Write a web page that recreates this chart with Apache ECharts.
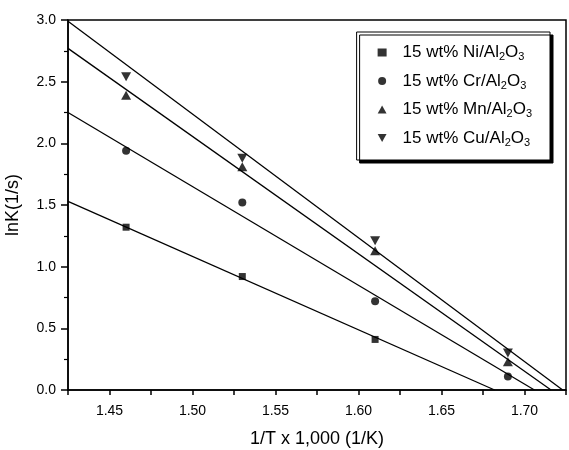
<!DOCTYPE html>
<html>
<head>
<meta charset="utf-8">
<script src="https://cdn.jsdelivr.net/npm/echarts@6/dist/echarts.min.js"></script>
<style>
html, body { margin: 0; padding: 0; background: #fff; }
#main { width: 569px; height: 450px; }
</style>
</head>
<body>
<div id="main"></div>
<script>
// 1/T x 1000 的测量点
var xVals = [1.46, 1.53, 1.61, 1.69];
var niVals = [1.32, 0.92, 0.41, null];
var crVals = [1.94, 1.52, 0.72, 0.11];
var mnVals = [2.39, 1.81, 1.13, 0.23];
var cuVals = [2.54, 1.88, 1.21, 0.30];

// 拟合直线的两个端点 [x, y]
var niFit = [[1.425, 1.53], [1.682, 0]];
var crFit = [[1.425, 2.25], [1.706, 0]];
var mnFit = [[1.425, 2.77], [1.716, 0]];
var cuFit = [[1.425, 2.99], [1.723, 0]];

var seriesNames = ['Ni', 'Cr', 'Mn', 'Cu'];
var yTicks = ['0.0', '0.5', '1.0', '1.5', '2.0', '2.5', '3.0'];

var myChart = echarts.init(document.getElementById('main'));

function toPoints(yArr) {
	var pts = [];
	for (var i in xVals) {
		if (yArr[i] !== null) {
			pts.push([xVals[i], yArr[i]]);
		}
	}
	return pts;
}

function fitLine(name, data) {
	return {
		name : name + '_fit',
		type : 'line',
		data : data,
		symbol : 'none',
		silent : true,
		lineStyle : {
			color : '#000',
			width : 1.3
		},
		z : 2
	};
}

function scatter(name, yArr, symbol, size) {
	return {
		name : name,
		type : 'scatter',
		data : toPoints(yArr),
		symbol : symbol,
		symbolSize : size,
		itemStyle : {
			color : '#000'
		},
		z : 3
	};
}

var downTri = 'path://M0,0 L10,0 L5,9 Z';
var upTri = 'path://M5,0 L10,9 L0,9 Z';

var option = {
	animation : false,
	textStyle : {
		fontFamily : 'Liberation Sans, Arial, sans-serif',
		color : '#000'
	},
	grid : {
		left : 68,
		right : 3,
		top : 20,
		bottom : 60,
		outerBoundsMode : 'none',
		show : true,
		borderColor : '#000',
		borderWidth : 1.5,
		backgroundColor : '#fff'
	},
	legend : {
		data : seriesNames,
		orient : 'vertical',
		right : 19,
		top : 32,
		itemWidth : 9,
		itemHeight : 8,
		itemGap : 10,
		padding : [12, 18, 12, 21],
		backgroundColor : '#fff',
		borderColor : '#000',
		borderWidth : 1,
		shadowColor : '#000',
		shadowBlur : 0,
		shadowOffsetX : 3,
		shadowOffsetY : 3,
		formatter : function(name) {
			return '15 wt% ' + name + '/Al{sub|2}O{sub|3}';
		},
		textStyle : {
			fontSize : 17,
			color : '#000',
			padding : [0, 0, 0, 11],
			fontFamily : 'Liberation Sans, Arial, sans-serif',
			rich : {
				sub : {
					fontSize : 11,
					verticalAlign : 'bottom',
					padding : [9, 0, 0, 0],
					color : '#000'
				}
			}
		}
	},
	xAxis : {
		type : 'value',
		min : 1.425,
		max : 1.725,
		interval : 0.025,
		name : '1/T x 1,000 (1/K)',
		nameLocation : 'middle',
		nameGap : 40,
		nameTextStyle : {
			fontSize : 18,
			color : '#000'
		},
		splitLine : {
			show : false
		},
		axisLine : {
			lineStyle : {
				color : '#000',
				width : 1.5
			}
		},
		axisTick : {
			length : 5,
			lineStyle : {
				color : '#000',
				width : 1.5
			}
		},
		axisLabel : {
			fontSize : 14,
			color : '#000',
			margin : 14,
			showMinLabel : true,
			showMaxLabel : true,
			formatter : function(v) {
				var m = Math.round(v * 1000);
				if (m % 50 === 0) {
					return (m / 1000).toFixed(2);
				}
				return '';
			}
		}
	},
	yAxis : {
		type : 'value',
		min : 0,
		max : 3,
		interval : 0.5,
		name : 'lnK(1/s)',
		nameLocation : 'middle',
		nameGap : 46,
		nameTextStyle : {
			fontSize : 18,
			color : '#000'
		},
		splitLine : {
			show : false
		},
		axisLine : {
			lineStyle : {
				color : '#000',
				width : 1.5
			}
		},
		axisTick : {
			length : 7,
			lineStyle : {
				color : '#000',
				width : 1.5
			}
		},
		minorTick : {
			show : true,
			splitNumber : 2,
			length : 4,
			lineStyle : {
				color : '#000',
				width : 1.2
			}
		},
		axisLabel : {
			fontSize : 14,
			color : '#000',
			margin : 12,
			formatter : function(v) {
				return yTicks[Math.round(v * 2)];
			}
		}
	},
	series : [
		fitLine('Ni', niFit),
		fitLine('Cr', crFit),
		fitLine('Mn', mnFit),
		fitLine('Cu', cuFit),
		scatter('Ni', niVals, 'rect', 7),
		scatter('Cr', crVals, 'circle', 8),
		scatter('Mn', mnVals, upTri, [10, 9]),
		scatter('Cu', cuVals, downTri, [10, 9])
	]
};
myChart.setOption(option);
</script>
</body>
</html>
